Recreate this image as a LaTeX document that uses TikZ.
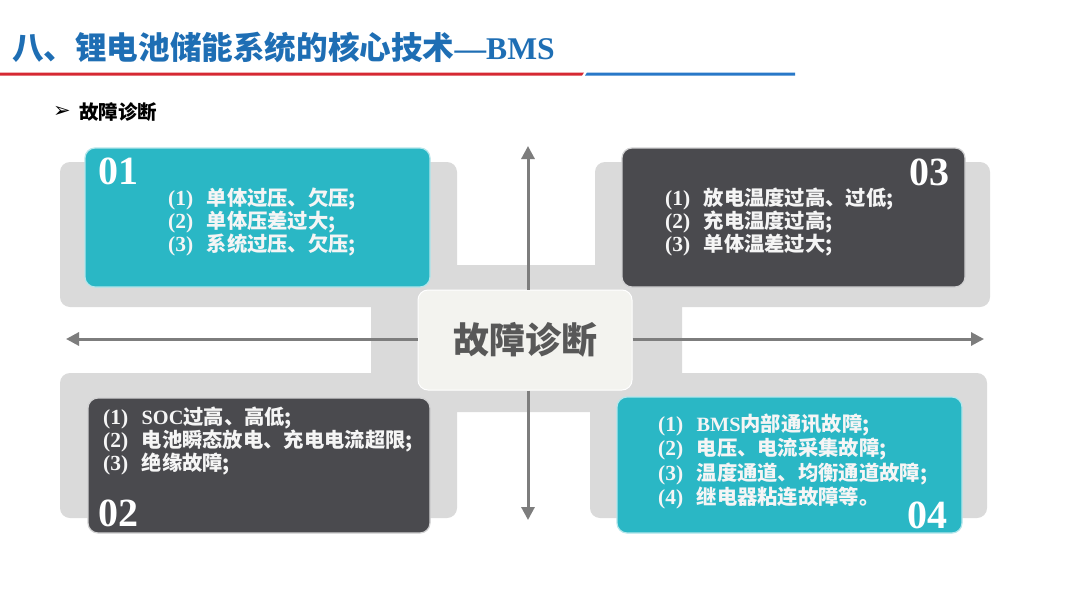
\documentclass[tikz,border=0pt]{standalone}
\usepackage{fontspec}
\setmainfont{Liberation Serif}
\newfontfamily\cjk{Noto Sans CJK SC}
\newfontfamily\dejavu{DejaVu Sans}
\usetikzlibrary{arrows.meta}
\definecolor{titleblue}{RGB}{30,110,180}
\definecolor{linered}{RGB}{214,40,50}
\definecolor{lineblue}{RGB}{40,120,200}
\definecolor{tealc}{RGB}{42,183,197}
\definecolor{darkc}{RGB}{74,74,78}
\definecolor{bggray}{RGB}{218,218,218}
\definecolor{arrowc}{RGB}{125,125,125}
\definecolor{ctrfill}{RGB}{243,243,239}
\definecolor{ctrtext}{RGB}{88,88,88}
\newcommand{\pn}[1]{\makebox[38.5pt][l]{\rmfamily\bfseries\fontsize{21.5}{23}\selectfont(#1)}}
\tikzset{
  graybg/.style={fill=bggray, rounded corners=10pt},
  card/.style={rounded corners=10pt, line width=1.2pt, inner sep=0pt, outer sep=0pt},
  tealcard/.style={card, fill=tealc, draw=tealc!35!white},
  darkcard/.style={card, fill=darkc, draw=darkc!25!white},
  itemline/.style={anchor=base west, inner sep=0pt, text=white!96!black, font=\cjk\bfseries\fontsize{20.3}{23}\selectfont},
  bignum/.style={inner sep=0pt, text=white, font=\rmfamily\bfseries\fontsize{40}{40}\selectfont},
  axis/.style={draw=arrowc, line width=3pt, -{Triangle[length=13pt,width=13pt]}},
}
\begin{document}
\begin{tikzpicture}[x=1pt,y=-1pt]
\useasboundingbox (0,0) rectangle (1080,608);
\fill[white] (0,0) rectangle (1080,608);
% title
\node[anchor=west, inner sep=0pt, text=titleblue] (title) at (12,47)
  {{\cjk\bfseries\fontsize{31.6}{36}\selectfont 八、锂电池储能系统的核心技术}{\rmfamily\bfseries\fontsize{31.6}{36}\selectfont —BMS}};
\fill[linered] (0,72.5) -- (584,72.5) -- (582,75.5) -- (0,75.5) -- cycle;
\fill[lineblue] (587,72.5) -- (795,72.5) -- (795,75.5) -- (585,75.5) -- cycle;
% subheading
\node[anchor=west, inner sep=0pt] (subarrow) at (53,112) {\dejavu\bfseries\fontsize{21}{21}\selectfont ➢};
\node[anchor=west, inner sep=0pt] (subhead) at (79,112) {\cjk\bfseries\fontsize{19.5}{21}\selectfont 故障诊断};
% gray backgrounds
\fill[graybg] (371,265) rectangle (682,412);
\fill[graybg] (60,162) rectangle (457,307);
\fill[graybg] (595,162) rectangle (990,307);
\fill[graybg] (60,373) rectangle (457,518);
\fill[graybg] (590,373) rectangle (987,518);
% cards
\node[tealcard, minimum width=345pt, minimum height=139pt] (c1) at (257.5,217.5) {};
\node[darkcard, minimum width=343pt, minimum height=139pt] (c3) at (793.5,217.5) {};
\node[darkcard, minimum width=342pt, minimum height=135pt] (c2) at (259,465.5) {};
\node[tealcard, minimum width=345pt, minimum height=136pt] (c4) at (789.5,465) {};
% numbers
\node[bignum, anchor=base west] (n1) at (98,184) {01};
\node[bignum, anchor=base east] (n3) at (950,185) {03};
\node[bignum, anchor=base west] (n2) at (98,526) {02};
\node[bignum, anchor=base east] (n4) at (948,528) {04};
% card 1
\node[itemline] (l11) at (168,205) {\pn{1}单体过压、欠压;};
\node[itemline] (l12) at (168,228) {\pn{2}单体压差过大;};
\node[itemline] (l13) at (168,251) {\pn{3}系统过压、欠压;};
% card 3
\node[itemline] (l31) at (665,205) {\pn{1}放电温度过高、过低;};
\node[itemline] (l32) at (665,228) {\pn{2}充电温度过高;};
\node[itemline] (l33) at (665,251) {\pn{3}单体温差过大;};
% card 2
\node[itemline] (l21) at (103,424) {\pn{1}{\rmfamily\bfseries SOC}过高、高低;};
\node[itemline] (l22) at (103,447) {\pn{2}电池瞬态放电、充电电流超限;};
\node[itemline] (l23) at (103,470) {\pn{3}绝缘故障;};
% card 4
\node[itemline] (l41) at (658,431) {\pn{1}{\rmfamily\bfseries BMS}内部通讯故障;};
\node[itemline] (l42) at (658,455) {\pn{2}电压、电流采集故障;};
\node[itemline] (l43) at (658,480) {\pn{3}温度通道、均衡通道故障;};
\node[itemline] (l44) at (658,504) {\pn{4}继电器粘连故障等。};
% center
\node[rounded corners=10pt, fill=ctrfill, draw=white, line width=1pt, minimum width=214pt, minimum height=100pt, inner sep=0pt, text=ctrtext, font=\cjk\bfseries\fontsize{36}{40}\selectfont] (ctr) at (525,340) {故障诊断};
% arrows
\coordinate (topend) at (528,146);
\coordinate (botend) at (528,520);
\coordinate (leftend) at (66,339);
\coordinate (rightend) at (984,339);
\draw[axis] (ctr.north -| topend) -- (topend);
\draw[axis] (ctr.south -| botend) -- (botend);
\draw[axis] (ctr.west |- leftend) -- (leftend);
\draw[axis] (ctr.east |- rightend) -- (rightend);
\end{tikzpicture}
\end{document}
